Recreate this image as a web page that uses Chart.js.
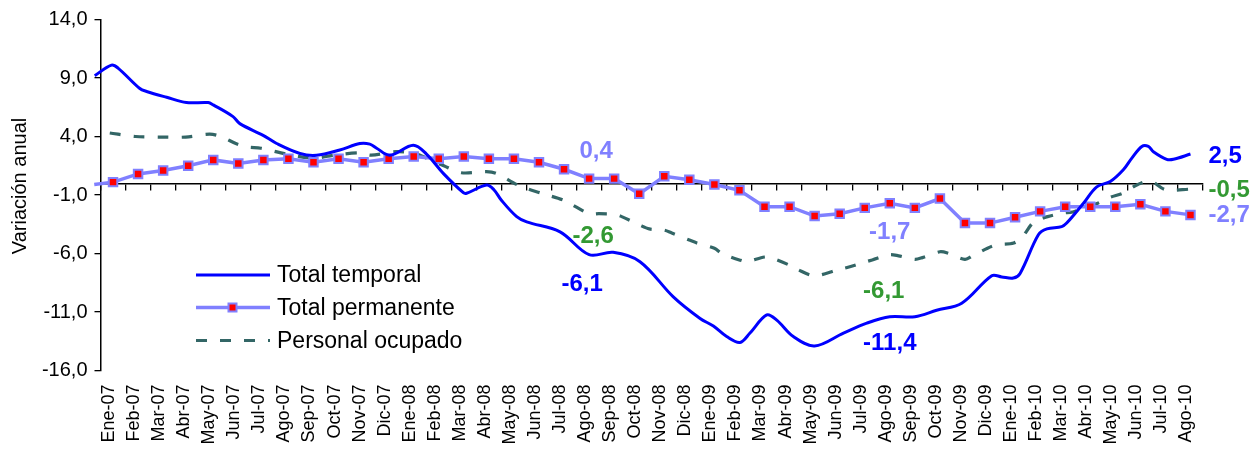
<!DOCTYPE html>
<html><head><meta charset="utf-8">
<script src="https://cdn.jsdelivr.net/npm/chart.js@4"></script>
<style>html,body{margin:0;padding:0;background:#fff}#wrap{width:1260px;height:451px;position:relative}</style>
</head><body><div id="wrap"><canvas id="c"></canvas></div>
<script>
// ---- data ----
const categories = ['Ene-07','Feb-07','Mar-07','Abr-07','May-07','Jun-07','Jul-07','Ago-07','Sep-07','Oct-07','Nov-07','Dic-07',
  'Ene-08','Feb-08','Mar-08','Abr-08','May-08','Jun-08','Jul-08','Ago-08','Sep-08','Oct-08','Nov-08','Dic-08',
  'Ene-09','Feb-09','Mar-09','Abr-09','May-09','Jun-09','Jul-09','Ago-09','Sep-09','Oct-09','Nov-09','Dic-09',
  'Ene-10','Feb-10','Mar-10','Abr-10','May-10','Jun-10','Jul-10','Ago-10'];
const yTickValues = [-16, -11, -6, -1, 4, 9, 14];

// Total permanente: one value per month (markers)
const permanentValues = [0.1,0.8,1.1,1.5,2.0,1.7,2.0,2.1,1.8,2.1,1.8,2.1,
  2.3,2.1,2.3,2.1,2.1,1.8,1.2,0.4,0.4,-0.9,0.6,0.3,
  -0.1,-0.6,-2.0,-2.0,-2.8,-2.6,-2.1,-1.7,-2.1,-1.3,-3.4,-3.4,
  -2.9,-2.4,-2.0,-2.0,-2.0,-1.8,-2.4,-2.7];
const permanentLeadIdx = [-0.75];
const permanentLeadVal = [-0.1];

// Total temporal: sub-monthly readings (position in months from Ene-07)
const temporalIdx = [-0.73,-0.06,0.2,1.07,1.34,2.14,2.93,3.8,4.0,4.79,5.06,5.99,6.53,7.46,8.12,9.05,9.85,10.25,10.52,11.05,11.98,12.51,13.18,13.98,14.11,14.91,15.2,15.5,16.11,16.51,17.84,19.0,19.96,21.03,22.36,23.43,23.96,24.49,25.02,25.42,26.09,26.49,27.15,28.0,29.15,30.08,31.0,32.0,32.87,33.87,35.07,35.47,35.93,36.2,36.93,37.27,37.86,38.06,38.73,39.26,39.8,40.32,40.66,41.06,41.32,41.52,42.05,42.32,43.0];
const temporalVal = [9.2,10.1,9.85,8.1,7.85,7.35,6.9,6.9,6.7,5.7,5.1,4.1,3.4,2.55,2.4,2.85,3.4,3.35,3.0,2.4,3.25,2.5,0.85,-0.8,-0.85,-0.15,-0.55,-1.45,-2.85,-3.3,-4.15,-6.1,-5.9,-6.7,-9.7,-11.55,-12.2,-13.1,-13.6,-12.8,-11.25,-11.7,-13.1,-13.9,-12.8,-11.95,-11.4,-11.4,-10.85,-10.25,-7.9,-8.0,-8.1,-7.7,-4.4,-3.9,-3.7,-3.4,-1.7,-0.3,0.15,1.15,2.15,3.15,3.15,2.7,2.05,2.05,2.5];

// Personal ocupado
const personalIdx = [-0.13,0.9,1.9,2.9,3.85,4.3,4.9,5.35,5.9,6.9,8.0,8.8,9.85,10.3,11.3,12.0,12.25,13.2,13.9,14.9,15.3,16.2,17.1,18.0,18.3,19.0,19.4,20.0,20.3,21.0,21.4,22.0,22.3,23.0,23.3,24.0,24.3,25.0,25.3,26.0,26.3,27.0,27.3,28.0,28.9,29.3,29.9,30.3,31.0,31.35,32.0,32.3,33.0,33.3,34.0,34.3,34.9,35.3,35.95,36.3,36.75,37.3,37.9,38.3,38.9,39.3,39.8,40.3,40.9,41.4,42.0,43.0];
const personalVal = [4.3,4.0,3.95,3.95,4.2,4.0,3.4,3.1,3.0,2.5,2.15,2.4,2.6,2.4,2.7,2.6,2.4,1.5,0.9,1.0,0.85,-0.2,-0.85,-1.45,-1.8,-2.6,-2.6,-2.65,-2.85,-3.55,-3.9,-4.0,-4.25,-4.85,-5.1,-5.55,-6.0,-6.55,-6.7,-6.3,-6.4,-7.0,-7.35,-7.9,-7.4,-7.2,-6.8,-6.55,-6.1,-6.2,-6.5,-6.35,-5.85,-5.95,-6.5,-6.2,-5.55,-5.25,-5.1,-4.55,-3.3,-2.85,-2.55,-2.45,-2.0,-1.7,-1.2,-0.85,-0.1,0.2,-0.55,-0.5];

const seriesNames = ['Total temporal','Total permanente','Personal ocupado'];
const yTitle = 'Variación anual';

// value labels: text, month index, value
const labelText   = ['0,4','-2,6','-6,1','-1,7','-6,1','-11,4','2,5','-0,5','-2,7'];
const labelMonth  = [19,19,19,31,31,31,43,43,43];
const labelValue  = [0.4,-2.6,-6.1,-1.7,-6.1,-11.4,2.5,-0.5,-2.7];

// ---- styles ----
const C_TEMP = '#0000FF', C_PERM = '#8080FF', C_PERS = '#336666', C_GREEN = '#339933';
const labelStyle = [
  {c:C_PERM, dx:7, dy:-27, a:'center'},
  {c:C_GREEN, dx:4, dy:23, a:'center'},
  {c:C_TEMP, dx:-7, dy:30, a:'center'},
  {c:C_PERM, dx:0, dy:29, a:'center'},
  {c:C_GREEN, dx:-6, dy:37, a:'center'},
  {c:C_TEMP, dx:0, dy:27, a:'center'},
  {c:C_TEMP, dx:18, dy:2, a:'left'},
  {c:C_GREEN, dx:18, dy:1, a:'left'},
  {c:C_PERM, dx:18, dy:0, a:'left'}
];
const FONT = '"Liberation Sans", Arial, sans-serif';

const temporalData = temporalIdx.map((x,i)=>({x, y: temporalVal[i]}));
const personalData = personalIdx.map((x,i)=>({x, y: personalVal[i]}));
const permanentData = permanentLeadIdx.map((x,i)=>({x, y: permanentLeadVal[i]}))
  .concat(permanentValues.map((y,i)=>({x:i, y})));
const permRadius = permanentData.map((p,i)=> i < permanentLeadIdx.length ? 0 : 6);

const extras = {
  id: 'extras',
  afterDatasetsDraw(chart) {
    const ctx = chart.ctx, xs = chart.scales.x, ys = chart.scales.y;
    ctx.save();
    // value labels
    ctx.font = 'bold 24px ' + FONT;
    ctx.textBaseline = 'middle';
    labelText.forEach((t,i)=>{
      const s = labelStyle[i];
      ctx.fillStyle = s.c; ctx.textAlign = s.a;
      ctx.fillText(t, xs.getPixelForValue(labelMonth[i]) + s.dx, ys.getPixelForValue(labelValue[i]) + s.dy);
    });
    // y title
    ctx.save();
    ctx.translate(20, 186);
    ctx.rotate(-Math.PI/2);
    ctx.font = '20px ' + FONT;
    ctx.fillStyle = '#000'; ctx.textAlign = 'center';
    ctx.fillText(yTitle, 0, 0);
    ctx.restore();
    // legend
    const rows = [275, 307.5, 340.5];
    const ds = chart.data.datasets;
    ctx.font = '23px ' + FONT;
    ctx.textAlign = 'left';
    rows.forEach((ry, i)=>{
      const d = ds[i];
      ctx.save();
      ctx.strokeStyle = d.borderColor; ctx.lineWidth = d.borderWidth;
      ctx.setLineDash(d.borderDash || []);
      ctx.beginPath(); ctx.moveTo(196, ry); ctx.lineTo(270, ry); ctx.stroke();
      ctx.restore();
      if (i === 1) {
        ctx.fillStyle = '#FF0000'; ctx.strokeStyle = C_PERM; ctx.lineWidth = 2;
        ctx.fillRect(228.5, ry-4, 8, 8); ctx.strokeRect(228.5, ry-4, 8, 8);
      }
      ctx.fillStyle = '#000';
      ctx.fillText(seriesNames[i], 277, ry + 1);
    });
    ctx.restore();
  }
};

new Chart(document.getElementById('c'), {
  type: 'line',
  data: {
    datasets: [
      {label: seriesNames[0], data: temporalData, borderColor: C_TEMP, borderWidth: 3, pointRadius: 0, tension: 0.35, clip: 12},
      {label: seriesNames[1], data: permanentData, borderColor: C_PERM, borderWidth: 3.5, pointStyle: 'rect',
        pointRadius: permRadius, pointBackgroundColor: '#FF0000', pointBorderColor: C_PERM, pointBorderWidth: 2, tension: 0, clip: 12},
      {label: seriesNames[2], data: personalData, borderColor: C_PERS, borderWidth: 3.2, borderDash: [11, 13], pointRadius: 0, tension: 0.3, clip: 12}
    ]
  },
  options: {
    responsive: true, maintainAspectRatio: false, animation: false,
    layout: {padding: {top: 19.5, right: 57, left: 0, bottom: 0}},
    plugins: {legend: {display: false}, tooltip: {enabled: false}},
    scales: {
      x: {
        type: 'linear', position: 'bottom', min: -0.5, max: 43.5,
        afterBuildTicks: s => { s.ticks = categories.map((_,i)=>({value: i})); },
        afterFit: s => { s.height = 80.5; },
        ticks: {autoSkip: false, minRotation: 90, maxRotation: 90, color: '#000', padding: 14, labelOffset: -4,
          font: {family: FONT, size: 18}, callback: v => categories[v]},
        grid: {display: false, drawTicks: false},
        border: {display: false}
      },
      x2: {
        type: 'linear', axis: 'x', position: {y: 0}, min: -0.5, max: 43.5,
        afterBuildTicks: s => { s.ticks = categories.concat(['']).map((_,i)=>({value: i - 0.5})); },
        ticks: {display: false},
        grid: {drawOnChartArea: false, drawTicks: true, tickLength: 6, color: '#000', lineWidth: 1.3},
        border: {display: true, color: '#000', width: 1.5}
      },
      y: {
        type: 'linear', position: 'left', min: -16, max: 14,
        afterBuildTicks: s => { s.ticks = yTickValues.map(v=>({value: v})); },
        afterFit: s => { s.width = 100.5; },
        ticks: {color: '#000', padding: 7, font: {family: FONT, size: 20},
          callback: v => v.toFixed(1).replace('.', ',')},
        grid: {drawOnChartArea: false, drawTicks: true, tickLength: 6, color: '#000', lineWidth: 1.3},
        border: {display: true, color: '#000', width: 1.5}
      }
    }
  },
  plugins: [extras]
});
</script></body></html>
